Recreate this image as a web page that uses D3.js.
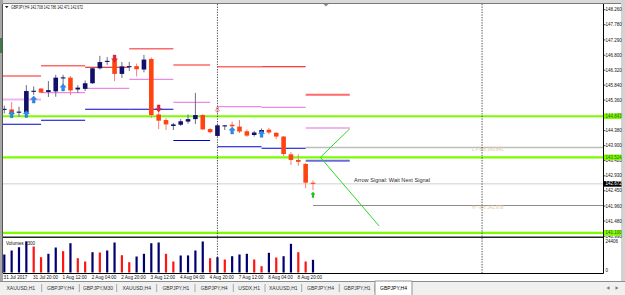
<!DOCTYPE html>
<html>
<head>
<meta charset="utf-8">
<script src="https://cdn.jsdelivr.net/npm/d3@7"></script>
<style>
  body { margin: 0; background: #fff; overflow: hidden; }
  svg { display: block; }
</style>
</head>
<body>
<div id="chart"></div>
<script>
var width = 625,
    height = 295;

// GBPJPY H4 bars, 31 Jul 04:00 .. 9 Aug 04:00
var opens  = [145.06,145.06,144.97,144.96,145.64,145.73,145.62,145.64,146.07,146.08,145.70,145.72,145.90,146.38,146.60,
              146.64,146.20,146.43,146.45,146.34,146.68,144.90,144.72,144.53,144.57,144.67,144.75,144.88,144.43,144.21,
              144.54,144.57,144.51,144.36,144.24,144.33,144.41,144.31,144.19,143.62,143.44,143.31,142.708];
var highs  = [145.18,145.30,145.15,145.84,145.80,145.75,145.97,146.17,146.17,146.13,145.84,145.99,146.42,146.78,146.74,
              146.80,146.58,146.58,146.53,146.81,146.73,145.00,144.78,144.63,144.75,144.90,145.59,144.91,144.46,144.58,
              144.56,144.67,144.72,144.42,144.37,144.45,144.47,144.33,144.21,143.70,143.62,143.34,142.786];
var lows   = [144.93,144.88,144.83,144.91,145.53,145.59,145.46,145.47,145.72,145.52,145.59,145.65,145.88,146.34,146.49,
              145.97,146.07,146.29,146.12,146.25,144.78,144.43,144.40,144.40,144.53,144.60,144.59,144.40,144.29,144.19,
              144.40,144.49,144.30,144.18,144.19,144.27,144.26,144.11,143.57,143.28,143.25,142.53,142.471];
var closes = [145.08,144.93,144.99,145.65,145.66,145.60,145.68,146.08,146.09,145.67,145.76,145.90,146.38,146.58,146.62,
              146.20,146.44,146.45,146.35,146.66,144.88,144.70,144.58,144.58,144.68,144.75,144.88,144.42,144.33,144.55,
              144.55,144.52,144.35,144.22,144.32,144.40,144.32,144.19,143.63,143.44,143.38,142.71,142.672];
var volumes = [14170,17310,19900,24310,20460,12040,14720,19670,16760,23060,11250,8660,15980,15740,17310,
               23610,13620,8110,12590,14720,23060,23610,14720,8660,13380,13450,17310,24406,11250,12040,
               10230,12830,14170,14720,10230,4960,15500,11800,12830,22590,15980,8660,9990];

// daily levels (bar index where each day's segment starts / ends)
var dayStart   = [-1, 5, 11, 17, 23, 29, 35, 41];
var dayEnd     = [5, 11, 17, 23, 28, 35, 41, 47];
var redLevels  = [146.133,146.463,146.412,147.009,146.486,146.431,146.431,145.533];
var pinkLevels = [145.379,145.597,145.738,146.027,145.289,145.148,145.129,144.465];
var blueLevels = [144.583,144.712,145.065,145.065,144.064,143.865,143.813,143.412];

var srLevels = [144.841, 143.524, 141.100];
var bidPrice = 142.672;

var projStart = [41, 42];
var projPrice = [143.841, 141.978];
var projText  = ["L + 8% 143.841", "H - 8% 141.978"];

var zigIndex = [47, 43, 51];
var zigPrice = [144.44, 143.524, 141.32];

var upArrowIndex   = [1, 3, 4, 8, 31, 35];
var upArrowPrice   = [145.02, 145.03, 145.49, 145.88, 144.50, 144.39];
var downArrowIndex = [15, 21];
var downArrowPrice = [146.58, 144.98];
var hollowIndex    = [29];
var hollowPrice    = [144.95];
var greenUpIndex   = [42];
var greenUpPrice   = [142.42];

var separatorIndex = [29, 65];

var priceTicks  = [148.260,147.780,147.290,146.800,146.320,145.840,145.360,144.870,144.380,143.900,143.420,142.930,142.450,141.960,141.480,140.990];
var volumeTicks = [24406, 0];
var timeIndex   = [0, 4, 8, 12, 16, 20, 24, 28, 32, 36, 40];
var timeLabels  = ["31 Jul 2017","31 Jul 20:00","1 Aug 12:00","2 Aug 04:00","2 Aug 20:00","3 Aug 12:00","4 Aug 04:00","4 Aug 20:00","7 Aug 12:00","8 Aug 04:00","8 Aug 20:00"];
var tabs = ["XAUUSD,H1","GBPJPY,H4","GBPJPY,M30","XAUUSD,H4","GBPJPY,H1","GBPJPY,H4","USDX,H1","XAUUSD,H1","GBPJPY,H4","GBPJPY,H1","GBPJPY,H4"];

// layout
var plotLeft = 3, plotRight = 603, plotTop = 4, mainBottom = 237, volTop = 238.5, volBottom = 273;
var tabEdges = [0, 41.7, 79.3, 116.7, 156.7, 195, 233.3, 265, 301.7, 339.3, 375, 412];

var x = d3.scaleLinear().domain([0, 42]).range([4.3, 4.3 + 7.35 * 42]);
var y = d3.scaleLinear().domain([140.99, 148.26]).range([236.3, 9.7]);
var yv = d3.scaleLinear().domain([0, 24406]).range([272.5, 241.5]);

var svg = d3.select('#chart')
    .append('svg')
    .attr('width', width)
    .attr('height', height)
    .style('font-family', '"Liberation Sans", Arial, sans-serif');

svg.append('rect').attr('width', width).attr('height', height).attr('fill', '#fff');

var defs = svg.append('defs');
defs.append('clipPath').attr('id', 'mainClip')
    .append('rect').attr('x', plotLeft).attr('y', plotTop).attr('width', plotRight - plotLeft).attr('height', mainBottom - plotTop);
defs.append('clipPath').attr('id', 'volClip')
    .append('rect').attr('x', plotLeft).attr('y', volTop).attr('width', plotRight - plotLeft).attr('height', volBottom - volTop);

// window chrome
svg.append('rect').attr('x', 0).attr('y', 0).attr('width', width).attr('height', 3).attr('fill', '#dadada');
svg.append('line').attr('x1', 0).attr('x2', width).attr('y1', 3.5).attr('y2', 3.5).attr('stroke', '#7a7a7a');
svg.append('rect').attr('x', 0).attr('y', 0).attr('width', 3).attr('height', 281).attr('fill', '#a6a6a6');
svg.append('rect').attr('x', 0).attr('y', 38).attr('width', 3).attr('height', 15).attr('fill', '#3f7a4c');
svg.append('rect').attr('x', 621).attr('y', 0).attr('width', 4).attr('height', 281).attr('fill', '#d2d2d2');
svg.append('path').attr('d', 'M323.5,4 L328.5,4 L326,6.5 Z').attr('fill', '#8a8a8a');

var main = svg.append('g').attr('clip-path', 'url(#mainClip)');
var vol = svg.append('g').attr('clip-path', 'url(#volClip)');

// bid line
main.append('line')
    .attr('x1', plotLeft).attr('x2', plotRight)
    .attr('y1', y(bidPrice)).attr('y2', y(bidPrice))
    .attr('stroke', '#cfcfcf').attr('stroke-width', 1);

// projection lines
main.selectAll('.proj')
    .data(projPrice)
    .enter()
    .append('line')
    .attr('x1', (d, i) => x(projStart[i]))
    .attr('x2', plotRight)
    .attr('y1', d => y(d)).attr('y2', d => y(d))
    .attr('stroke', (d, i) => i == 0 ? '#bdbdbd' : '#8c8c8c')
    .attr('stroke-width', (d, i) => i == 0 ? 1.6 : 1);

main.selectAll('.projText')
    .data(projText)
    .enter()
    .append('text')
    .attr('x', 472)
    .attr('y', (d, i) => y(projPrice[i]) + 3.6)
    .attr('font-size', 4.5)
    .attr('fill', '#e3c79c')
    .text(d => d);

// daily level segments
var strongRed = [2, 6];
function segX1(k) { return Math.max(x(dayStart[k]), plotLeft); }

main.selectAll('.red')
    .data(redLevels)
    .enter()
    .append('line')
    .attr('x1', (d, k) => segX1(k)).attr('x2', (d, k) => x(dayEnd[k]))
    .attr('y1', d => y(d)).attr('y2', d => y(d))
    .attr('stroke', (d, k) => k == 2 ? '#c81010' : (k == 6 ? '#ff0000' : '#ff6a6a'))
    .attr('stroke-width', (d, k) => strongRed.indexOf(k) >= 0 ? 1.1 : (k == 7 ? 2 : 1.6));

main.selectAll('.pink')
    .data(pinkLevels)
    .enter()
    .append('line')
    .attr('x1', (d, k) => segX1(k)).attr('x2', (d, k) => x(dayEnd[k]))
    .attr('y1', d => y(d)).attr('y2', d => y(d))
    .attr('stroke', (d, k) => (k == 0 || k == 7) ? '#f2b4f2' : '#e98ae9')
    .attr('stroke-width', (d, k) => (k == 0 || k == 7) ? 2.1 : 1.2);

main.selectAll('.blue')
    .data(blueLevels)
    .enter()
    .append('line')
    .attr('x1', (d, k) => segX1(k)).attr('x2', (d, k) => x(dayEnd[k]))
    .attr('y1', d => y(d)).attr('y2', d => y(d))
    .attr('stroke', (d, k) => k == 7 ? '#6b6be0' : '#0000cf')
    .attr('stroke-width', (d, k) => k == 7 ? 2 : 1.1);

// support / resistance
main.selectAll('.sr')
    .data(srLevels)
    .enter()
    .append('line')
    .attr('x1', plotLeft).attr('x2', plotRight)
    .attr('y1', d => y(d)).attr('y2', d => y(d))
    .attr('stroke', '#7cfc00').attr('stroke-width', 2.2);

// signal zigzag
main.append('path')
    .datum(zigIndex.map((d, i) => [d, zigPrice[i]]))
    .attr('d', d3.line().x(d => x(d[0])).y(d => y(d[1])))
    .attr('fill', 'none')
    .attr('stroke', '#2ed62e')
    .attr('stroke-width', 1);

// candles
var bars = d3.range(opens.length).map(i => ({ i: i, o: opens[i], h: highs[i], l: lows[i], c: closes[i] }));

main.selectAll('.wick')
    .data(bars)
    .enter()
    .append('line')
    .attr('x1', d => x(d.i)).attr('x2', d => x(d.i))
    .attr('y1', d => y(d.h)).attr('y2', d => y(d.l))
    .attr('stroke', d => d.c >= d.o ? '#6c6c86' : '#ff7b7b')
    .attr('stroke-width', 1);

main.selectAll('.body')
    .data(bars)
    .enter()
    .append('rect')
    .attr('x', d => x(d.i) - 2.3)
    .attr('width', 4.6)
    .attr('y', d => y(Math.max(d.o, d.c)))
    .attr('height', d => Math.max(1.1, Math.abs(y(d.o) - y(d.c))))
    .attr('fill', d => d.c >= d.o ? '#10106c' : '#ff4412');

// arrows
function upArrow(cx, tip, w, h) {
  return 'M' + cx + ',' + tip + ' l' + (w / 2) + ',' + (h * 0.47) + ' h' + (-w * 0.27) + ' v' + (h * 0.53) +
         ' h' + (-w * 0.46) + ' v' + (-h * 0.53) + ' h' + (-w * 0.27) + ' Z';
}
function downArrow(cx, tip, w, h) {
  return 'M' + cx + ',' + tip + ' l' + (w / 2) + ',' + (-h * 0.47) + ' h' + (-w * 0.27) + ' v' + (-h * 0.53) +
         ' h' + (-w * 0.46) + ' v' + (h * 0.53) + ' h' + (-w * 0.27) + ' Z';
}

main.selectAll('.upArrow')
    .data(upArrowIndex)
    .enter()
    .append('path')
    .attr('d', (d, i) => upArrow(x(d), y(upArrowPrice[i]), 6, 7))
    .attr('fill', '#2a8cf0')
    .attr('stroke', '#1a5fb0')
    .attr('stroke-width', 0.4);

main.selectAll('.downArrow')
    .data(downArrowIndex)
    .enter()
    .append('path')
    .attr('d', (d, i) => downArrow(x(d), y(downArrowPrice[i]), 6, 7))
    .attr('fill', '#e3263a')
    .attr('stroke', '#b0101e')
    .attr('stroke-width', 0.4);

main.selectAll('.hollow')
    .data(hollowIndex)
    .enter()
    .append('path')
    .attr('d', (d, i) => downArrow(x(d), y(hollowPrice[i]), 4.5, 5.5))
    .attr('fill', 'none')
    .attr('stroke', '#f08a8a')
    .attr('stroke-width', 0.8);

main.selectAll('.greenUp')
    .data(greenUpIndex)
    .enter()
    .append('path')
    .attr('d', (d, i) => upArrow(x(d), y(greenUpPrice[i]), 5, 6))
    .attr('fill', '#1fc21f');

main.append('text')
    .attr('x', 354).attr('y', 182)
    .attr('font-size', 5.6)
    .attr('fill', '#2a2a2a')
    .text('Arrow Signal: Wait Next Signal');

// header
svg.append('path').attr('d', 'M5,6 L8.5,6 L6.75,8.3 Z').attr('fill', '#222');
svg.append('text')
    .attr('x', 11).attr('y', 9.2)
    .attr('font-size', 4.6)
    .attr('textLength', 72)
    .attr('lengthAdjust', 'spacingAndGlyphs')
    .attr('fill', '#111')
    .text('GBPJPY,H4  142.708 142.786 142.471 142.672');

// volumes
vol.selectAll('rect')
    .data(volumes)
    .enter()
    .append('rect')
    .attr('x', (d, i) => x(i) - 1.1)
    .attr('width', 2.2)
    .attr('y', d => yv(d))
    .attr('height', d => yv(0) - yv(d))
    .attr('fill', (d, i) => (i == 0 || d > volumes[i - 1]) ? '#000070' : '#ff1414');

svg.append('text')
    .attr('x', 6).attr('y', 244.6)
    .attr('font-size', 4.6)
    .attr('fill', '#111')
    .text('Volumes 2300');

// period separators
svg.selectAll('.sep')
    .data(separatorIndex)
    .enter()
    .append('line')
    .attr('x1', d => x(d)).attr('x2', d => x(d))
    .attr('y1', plotTop).attr('y2', volBottom)
    .attr('stroke', '#222')
    .attr('stroke-width', 0.8)
    .attr('stroke-dasharray', '1.3,1.3');

// frame lines
svg.append('line').attr('x1', plotLeft - 0.5).attr('x2', plotLeft - 0.5).attr('y1', plotTop).attr('y2', volBottom).attr('stroke', '#555');
svg.append('line').attr('x1', plotRight + 0.5).attr('x2', plotRight + 0.5).attr('y1', plotTop).attr('y2', volBottom + 0.5).attr('stroke', '#000');
svg.append('line').attr('x1', plotLeft).attr('x2', plotRight).attr('y1', 237.2).attr('y2', 237.2).attr('stroke', '#222').attr('stroke-width', 1.6);
svg.append('line').attr('x1', plotLeft).attr('x2', plotRight + 0.5).attr('y1', volBottom + 0.5).attr('y2', volBottom + 0.5).attr('stroke', '#000');

// price axis
var axisG = svg.append('g');
axisG.selectAll('line')
    .data(priceTicks)
    .enter()
    .append('line')
    .attr('x1', plotRight).attr('x2', plotRight + 2.5)
    .attr('y1', d => y(d)).attr('y2', d => y(d))
    .attr('stroke', '#000').attr('stroke-width', 0.7);
axisG.selectAll('text')
    .data(priceTicks)
    .enter()
    .append('text')
    .attr('x', 605.5)
    .attr('y', d => y(d) + 1.6)
    .attr('font-size', 4.5)
    .attr('fill', '#111')
    .text(d => d.toFixed(3));

svg.selectAll('.volTick')
    .data(volumeTicks)
    .enter()
    .append('text')
    .attr('x', 605.5)
    .attr('y', d => yv(d) + (d == 0 ? -0.8 : 1.8))
    .attr('font-size', 4.5)
    .attr('fill', '#111')
    .text(d => d);

// price labels on axis
svg.selectAll('.srLabel')
    .data(srLevels)
    .enter()
    .append('rect')
    .attr('x', 604).attr('width', 17.5)
    .attr('y', d => y(d) - 2.8).attr('height', 5.6)
    .attr('fill', '#7cfc00');
svg.selectAll('.srText')
    .data(srLevels)
    .enter()
    .append('text')
    .attr('x', 605.5)
    .attr('y', d => y(d) + 1.6)
    .attr('font-size', 4.5)
    .attr('fill', '#3c5a20')
    .text(d => d.toFixed(3));

svg.append('rect')
    .attr('x', 604).attr('width', 17.5)
    .attr('y', y(bidPrice) - 2.8).attr('height', 5.6)
    .attr('fill', '#000');
svg.append('text')
    .attr('x', 605.5).attr('y', y(bidPrice) + 1.6)
    .attr('font-size', 4.5)
    .attr('fill', '#fff')
    .text(bidPrice.toFixed(3));

// time axis
svg.selectAll('.timeLabel')
    .data(timeLabels)
    .enter()
    .append('text')
    .attr('x', (d, i) => x(timeIndex[i]) - 0.7)
    .attr('y', 279)
    .attr('font-size', 4.6)
    .attr('fill', '#111')
    .text(d => d);

// tab bar
svg.append('rect').attr('x', 0).attr('y', 281.5).attr('width', width).attr('height', 13.5).attr('fill', '#f0f0f0');
svg.append('line').attr('x1', 0).attr('x2', width).attr('y1', 281.5).attr('y2', 281.5).attr('stroke', '#8c8c8c');
svg.selectAll('.tabSep')
    .data(tabEdges.slice(1, tabEdges.length - 1))
    .enter()
    .append('line')
    .attr('x1', d => d).attr('x2', d => d)
    .attr('y1', 284).attr('y2', 292)
    .attr('stroke', '#a8a8a8');
var last = tabs.length - 1;
svg.append('path')
    .attr('d', 'M' + tabEdges[last] + ',295 V281 H' + tabEdges[last + 1] + ' V295')
    .attr('fill', '#fff')
    .attr('stroke', '#7a7a7a')
    .attr('stroke-width', 0.8);
svg.selectAll('.tab')
    .data(tabs)
    .enter()
    .append('text')
    .attr('x', (d, i) => (tabEdges[i] + tabEdges[i + 1]) / 2)
    .attr('y', 289.8)
    .attr('text-anchor', 'middle')
    .attr('font-size', 5)
    .attr('fill', (d, i) => i == last ? '#000' : '#333')
    .text(d => d);
svg.append('path').attr('d', 'M606.5,288 L609.5,286.2 L609.5,289.8 Z').attr('fill', '#777');
svg.append('path').attr('d', 'M618.5,288 L615.5,286.2 L615.5,289.8 Z').attr('fill', '#777');
</script>
</body>
</html>
